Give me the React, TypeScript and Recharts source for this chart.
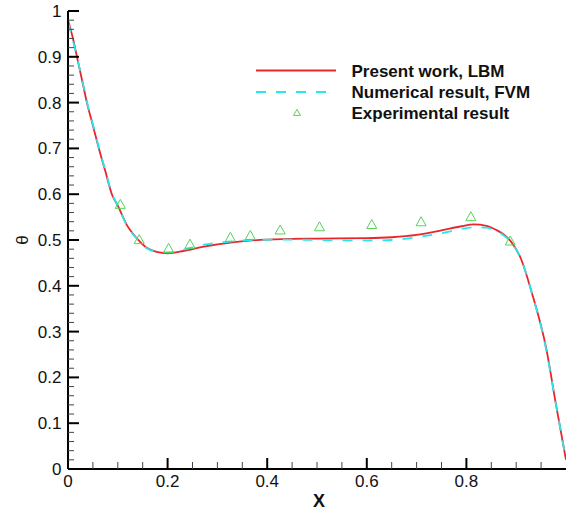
import React from 'react';
import { ComposedChart, Line, Scatter, XAxis, YAxis, Legend } from 'recharts';

// Present work, LBM
const LBM_X = [0, 0.01, 0.018, 0.03, 0.038, 0.05, 0.062, 0.075, 0.088, 0.1, 0.118, 0.138, 0.158, 0.178, 0.2, 0.232, 0.27, 0.33, 0.37, 0.43, 0.5, 0.6, 0.65, 0.7, 0.75, 0.79, 0.815, 0.84, 0.86, 0.875, 0.89, 0.91, 0.93, 0.96, 0.98, 1.0];
const LBM_Y = [0.98, 0.94, 0.9, 0.84, 0.8, 0.75, 0.7, 0.65, 0.6, 0.575, 0.533, 0.504, 0.483, 0.474, 0.471, 0.476, 0.485, 0.495, 0.499, 0.502, 0.503, 0.504, 0.506, 0.511, 0.521, 0.53, 0.534, 0.531, 0.522, 0.512, 0.496, 0.458, 0.39, 0.265, 0.14, 0.02];

// Numerical result, FVM
const FVM_X = [0, 0.01, 0.018, 0.03, 0.038, 0.05, 0.062, 0.075, 0.088, 0.1, 0.118, 0.138, 0.158, 0.178, 0.2, 0.232, 0.27, 0.33, 0.37, 0.43, 0.5, 0.6, 0.65, 0.7, 0.75, 0.79, 0.815, 0.84, 0.86, 0.875, 0.89, 0.91, 0.93, 0.96, 0.98, 1.0];
const FVM_Y = [0.975, 0.935, 0.9, 0.842, 0.802, 0.752, 0.702, 0.652, 0.602, 0.575, 0.532, 0.503, 0.482, 0.474, 0.473, 0.479, 0.489, 0.497, 0.5, 0.501, 0.5, 0.499, 0.5, 0.506, 0.515, 0.524, 0.528, 0.527, 0.52, 0.51, 0.495, 0.458, 0.39, 0.262, 0.14, 0.02];

// Experimental result
const EXP_X = [0.105, 0.143, 0.202, 0.245, 0.326, 0.366, 0.426, 0.505, 0.61, 0.709, 0.809, 0.888];
const EXP_Y = [0.577, 0.5, 0.481, 0.49, 0.505, 0.509, 0.521, 0.528, 0.533, 0.539, 0.55, 0.497];

const X_TICKS = [0, 0.05, 0.1, 0.15, 0.2, 0.25, 0.3, 0.35, 0.4, 0.45, 0.5, 0.55, 0.6, 0.65, 0.7, 0.75, 0.8, 0.85, 0.9, 0.95];
const Y_TICKS = [0, 0.02, 0.04, 0.06, 0.08, 0.1, 0.12, 0.14, 0.16, 0.18, 0.2, 0.22, 0.24, 0.26, 0.28, 0.3, 0.32, 0.34, 0.36, 0.38, 0.4, 0.42, 0.44, 0.46, 0.48, 0.5, 0.52, 0.54, 0.56, 0.58, 0.6, 0.62, 0.64, 0.66, 0.68, 0.7, 0.72, 0.74, 0.76, 0.78, 0.8, 0.82, 0.84, 0.86, 0.88, 0.9, 0.92, 0.94, 0.96, 0.98, 1];

const SERIES_NAMES = ['Present work, LBM', 'Numerical result, FVM', 'Experimental result'];
const RED = '#e8262b';
const CYAN = '#22e8f2';
const GREEN = '#55d455';
const FONT = '"Liberation Sans", Arial, sans-serif';

const lbmData = LBM_X.map((x, i) => ({ x, y: LBM_Y[i] }));
const fvmData = FVM_X.map((x, i) => ({ x, y: FVM_Y[i] }));
const expData = EXP_X.map((x, i) => ({ x, y: EXP_Y[i] }));

const fmt = (v: number) => String(Math.round(v * 10) / 10);

const XTick = (props: any) => {
  const { x, y, payload } = props;
  const v = payload.value as number;
  const major = Math.abs(v * 5 - Math.round(v * 5)) < 1e-6;
  return (
    <g>
      <line x1={x} x2={x} y1={y} y2={y - (major ? 11 : 7)} stroke={major ? '#000' : '#444'} strokeWidth={major ? 2 : 1} />
      {major && (
        <text x={x} y={y + 18} textAnchor="middle" fontSize={17} fontFamily={FONT} fill="#111">
          {fmt(v)}
        </text>
      )}
    </g>
  );
};

const YTick = (props: any) => {
  const { x, y, payload } = props;
  const v = payload.value as number;
  const major = Math.abs(v * 10 - Math.round(v * 10)) < 1e-6;
  return (
    <g>
      <line x1={x} x2={x + (major ? 11 : 6)} y1={y} y2={y} stroke={major ? '#000' : '#444'} strokeWidth={major ? 2 : 1} />
      {major && (
        <text x={x - 6.5} y={y + 6} textAnchor="end" fontSize={17} fontFamily={FONT} fill="#111">
          {fmt(v)}
        </text>
      )}
    </g>
  );
};

const Tri = ({ cx, cy, w = 10, h = 9 }: { cx: number; cy: number; w?: number; h?: number }) => (
  <path
    d={`M${cx},${cy - h * 0.6} L${cx - w / 2},${cy + h * 0.4} L${cx + w / 2},${cy + h * 0.4} Z`}
    fill="none"
    stroke={GREEN}
    strokeWidth={1}
  />
);

const LegendBox = () => (
  <svg width={568} height={130} style={{ display: 'block' }}>
    <line x1={256} x2={336} y1={70.5} y2={70.5} stroke={RED} strokeWidth={2} />
    <line x1={256} x2={336} y1={92} y2={92} stroke={CYAN} strokeWidth={2} strokeDasharray="10 10" />
    <Tri cx={297} cy={113} w={7} h={6} />
    <text x={351.5} y={77} fontSize={17} fontWeight="bold" fontFamily={FONT} fill="#111">{SERIES_NAMES[0]}</text>
    <text x={351.5} y={98} fontSize={17} fontWeight="bold" fontFamily={FONT} fill="#111">{SERIES_NAMES[1]}</text>
    <text x={351.5} y={118.5} fontSize={17} fontWeight="bold" fontFamily={FONT} fill="#111">{SERIES_NAMES[2]}</text>
  </svg>
);

export default function App() {
  return (
    <div style={{ position: 'absolute', left: 0, top: 0, width: 568, height: 510, background: '#fff' }}>
      <ComposedChart width={568} height={510} margin={{ top: 11, right: 2, bottom: 11, left: 18 }}>
        <XAxis
          type="number"
          dataKey="x"
          domain={[0, 1]}
          ticks={X_TICKS}
          interval={0}
          tickSize={0}
          tickMargin={0}
          tickLine={false}
          tick={XTick}
          height={30}
          axisLine={{ stroke: '#000', strokeWidth: 2 }}
          allowDataOverflow
          label={{
            content: (p: any) => {
              const vb = p.viewBox;
              return (
                <text x={vb.x + vb.width / 2 + 2} y={vb.y + 38} textAnchor="middle" fontSize={18} fontWeight="bold" fontFamily={FONT} fill="#111">
                  X
                </text>
              );
            },
          }}
        />
        <YAxis
          type="number"
          dataKey="y"
          domain={[0, 1]}
          ticks={Y_TICKS}
          interval={0}
          tickSize={0}
          tickMargin={0}
          tickLine={false}
          tick={YTick}
          width={50}
          axisLine={{ stroke: '#000', strokeWidth: 2 }}
          allowDataOverflow
          label={{
            content: (p: any) => {
              const vb = p.viewBox;
              const cx = vb.x + 4;
              const cy = vb.y + vb.height / 2;
              return (
                <text x={cx} y={cy} transform={`rotate(-90 ${cx} ${cy})`} textAnchor="middle" dominantBaseline="central" fontSize={17} fontFamily={FONT} fill="#111">
                  θ
                </text>
              );
            },
          }}
        />
        <Legend
          layout="horizontal"
          verticalAlign="middle"
          align="center"
          wrapperStyle={{ left: 0, top: 0, width: 568, height: 130, pointerEvents: 'none' }}
          content={() => <LegendBox />}
        />
        <Line data={lbmData} dataKey="y" name={SERIES_NAMES[0]} type="monotone" stroke={RED} strokeWidth={1.8} dot={false} activeDot={false} isAnimationActive={false} />
        <Line data={fvmData} dataKey="y" name={SERIES_NAMES[1]} type="monotone" stroke={CYAN} strokeWidth={1.8} strokeDasharray="10 10" dot={false} activeDot={false} isAnimationActive={false} />
        <Scatter data={expData} dataKey="y" name={SERIES_NAMES[2]} isAnimationActive={false} shape={(p: any) => <Tri cx={p.cx} cy={p.cy} />} />
      </ComposedChart>
    </div>
  );
}
